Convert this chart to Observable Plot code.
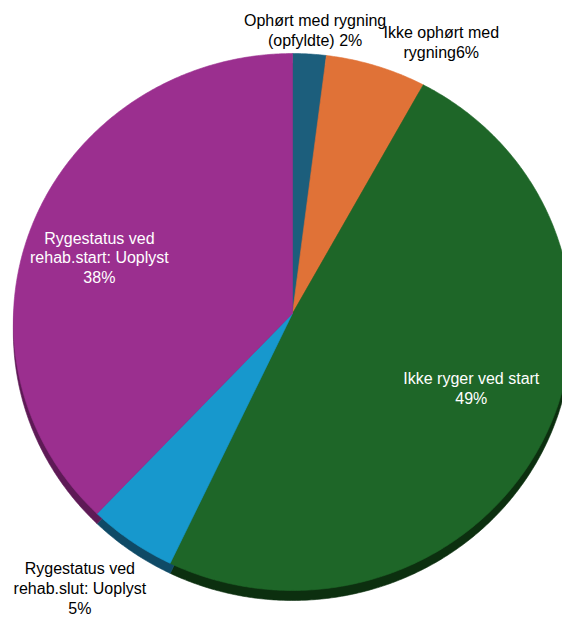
<!DOCTYPE html>
<html>
<head>
<meta charset="utf-8">
<script src="https://cdn.jsdelivr.net/npm/d3@7"></script>
<script src="https://cdn.jsdelivr.net/npm/@observablehq/plot@0.6"></script>
<style>
  html, body { margin: 0; padding: 0; background: #ffffff; }
  #chart svg { display: block; }
</style>
</head>
<body>
<div id="chart"></div>
<script>
// ---- data ----
const categories = [
  "Ophørt med rygning (opfyldte)",
  "Ikke ophørt med rygning",
  "Ikke ryger ved start",
  "Rygestatus ved rehab.slut: Uoplyst",
  "Rygestatus ved rehab.start: Uoplyst"
];
const values = [2, 6, 49, 5, 38];
const labelPrefixes = [
  "Ophørt med rygning\n(opfyldte) ",
  "Ikke ophørt med\nrygning",
  "Ikke ryger ved start\n",
  "Rygestatus ved\nrehab.slut: Uoplyst\n",
  "Rygestatus ved\nrehab.start: Uoplyst\n"
];

// ---- styles ----
const topColors = ["#1c5e7c", "#e07237", "#1e6628", "#1798cd", "#9b2f8f"];
const sideColors = ["#0f3a4e", "#8a4220", "#0c2f0f", "#0f4a66", "#5e1a56"];
const labelColors = ["#000000", "#000000", "#ffffff", "#000000", "#ffffff"];

// ---- 3D look: slight perspective of a tilted disc ----
const persp = {w1: 0, w2: 0.0317};
function project(u, v) {
  const D = 1 + persp.w1 * u + persp.w2 * v;
  return {x: u / D, y: v / D};
}

// ---- geometry from data ----
const arcs = d3.pie().sort(null).value(d => d)(values);
const slicePts = [];
arcs.forEach((a, i) => {
  const n = Math.max(4, Math.ceil((a.endAngle - a.startAngle) / (Math.PI / 360)));
  slicePts.push({k: i, ...project(0, 0)});
  for (let j = 0; j <= n; j++) {
    const t = a.startAngle + (a.endAngle - a.startAngle) * j / n;
    slicePts.push({k: i, ...project(Math.sin(t), Math.cos(t))});
  }
  slicePts.push({k: i, ...project(0, 0)});
});

function labelAnchor(i, r) {
  const m = (arcs[i].startAngle + arcs[i].endAngle) / 2;
  return {k: i, ...project(r * Math.sin(m), r * Math.cos(m)),
          text: labelPrefixes[i] + values[i] + "%"};
}
const inside = 0.7, outside = 1.1;
const radii = [outside, outside, inside, outside, inside];
const offsets = [[4, 1], [57, 0], [3, -12], [-35, 23], [-13, 12]];

const textMarks = categories.map((c, i) => {
  const d = labelAnchor(i, radii[i]);
  return Plot.text([d], {
    x: "x", y: "y", text: "text",
    dx: offsets[i][0], dy: offsets[i][1],
    fill: labelColors[i],
    fontSize: 16,
    fontFamily: "Liberation Sans, Arial, sans-serif",
    lineHeight: 1.22,
    textAnchor: "middle",
    lineAnchor: "middle"
  });
});

const chart = Plot.plot({
  width: 562,
  height: 619,
  margin: 0,
  style: {background: "#ffffff"},
  x: {domain: [-1, 1], range: [13, 571], axis: null},
  y: {domain: [-1, 1], range: [581.2, 44.8], axis: null},
  color: {type: "identity"},
  marks: [
    Plot.line(slicePts, {x: "x", y: "y", z: "k", dy: 10,
      fill: d => sideColors[d.k], stroke: d => sideColors[d.k], strokeWidth: 0.6}),
    Plot.line(slicePts, {x: "x", y: "y", z: "k",
      fill: d => topColors[d.k], stroke: d => topColors[d.k], strokeWidth: 0.6}),
    ...textMarks
  ]
});
document.getElementById("chart").appendChild(chart);
</script>
</body>
</html>
